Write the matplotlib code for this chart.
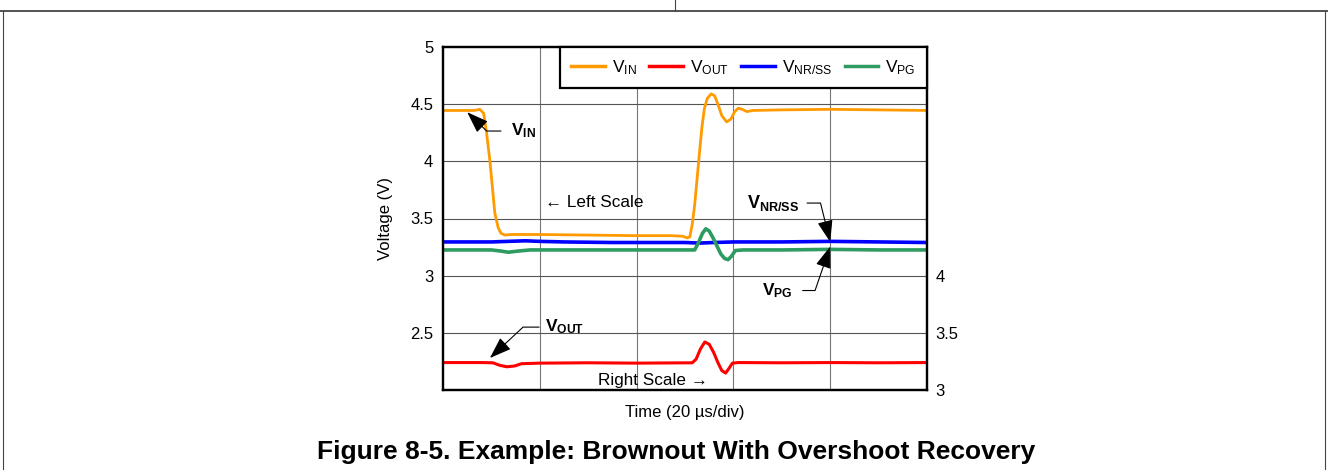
import matplotlib.pyplot as plt
from matplotlib.lines import Line2D

plt.rcParams['font.family'] = ['Liberation Sans', 'DejaVu Sans']
plt.rcParams['mathtext.default'] = 'regular'

# time in us, 20 us/div
t_vin = [0, 6.5, 7.6, 8.4, 9.0, 9.7, 10.7, 11.4, 12.0, 12.8, 14, 20, 30, 40, 47,
         49.5, 50.5, 51.0, 51.5, 52.0, 52.5, 53.0, 53.5, 54.0, 54.6, 55.4, 56.1,
         56.8, 57.6, 58.6, 59.5, 60.2, 61.0, 61.8, 62.8, 64, 70, 80, 90, 100]
v_vin = [4.445, 4.445, 4.455, 4.42, 4.25, 4.0, 3.55, 3.42, 3.37, 3.355, 3.36, 3.36, 3.355, 3.35, 3.35,
         3.345, 3.33, 3.34, 3.45, 3.62, 3.85, 4.08, 4.30, 4.46, 4.55, 4.59, 4.575,
         4.50, 4.40, 4.345, 4.37, 4.43, 4.465, 4.455, 4.435, 4.445, 4.45, 4.455, 4.45, 4.445]

t_nr = [0, 10, 17, 20, 25, 35, 50, 53, 56, 60, 70, 80, 90, 100]
v_nr = [3.295, 3.295, 3.305, 3.30, 3.295, 3.29, 3.29, 3.285, 3.29, 3.295, 3.295, 3.30, 3.295, 3.29]

t_pg = [0, 10, 12, 13.5, 15.5, 18, 30, 45, 52.0, 52.8, 53.6, 54.3, 55.0, 55.8, 56.6,
        57.4, 58.2, 58.9, 59.6, 60.4, 62, 70, 80, 90, 100]
v_pg = [3.225, 3.225, 3.215, 3.205, 3.215, 3.225, 3.225, 3.225, 3.225, 3.29, 3.37, 3.41, 3.39, 3.33, 3.26,
        3.19, 3.15, 3.14, 3.17, 3.22, 3.225, 3.225, 3.23, 3.225, 3.225]

# VOUT is read on the right scale
t_out = [0, 8, 10.3, 11.8, 13.2, 14.8, 16.2, 20, 30, 40, 51.5, 52.3, 53.2, 54.1, 55.0,
         55.9, 56.8, 57.6, 58.4, 59.1, 59.8, 61, 70, 80, 90, 100]
v_out = [3.24, 3.24, 3.238, 3.215, 3.203, 3.21, 3.23, 3.235, 3.238, 3.235, 3.238, 3.27, 3.36, 3.42, 3.40,
         3.33, 3.24, 3.17, 3.148, 3.19, 3.235, 3.24, 3.238, 3.24, 3.238, 3.24]

left_ticks = [2.5, 3, 3.5, 4, 4.5, 5]
left_labels = ['2.5', '3', '3.5', '4', '4.5', '5']
right_ticks = [3, 3.5, 4]
right_labels = ['3', '3.5', '4']
x_grid = [20, 40, 60, 80]

c_in, c_out, c_nr, c_pg = '#FF9A00', '#FF0000', '#0000FF', '#2E9B60'

fig = plt.figure(figsize=(13.28, 4.70), dpi=100)
ax = fig.add_axes([443/1328, 1-390/470, 484/1328, 343/470])
ax2 = ax.twinx()

ax.set_xlim(0, 100)
ax.set_ylim(2, 5)
ax2.set_ylim(3, 6)

for x in x_grid:
    ax.axvline(x, color='#777777', lw=0.8, zorder=0)
for y in left_ticks[:-1]:
    ax.axhline(y, color='#555555', lw=0.8, zorder=0)

l1, = ax.plot(t_vin, v_vin, color=c_in, lw=2.0, label='V$_{IN}$')
l3, = ax.plot(t_nr, v_nr, color=c_nr, lw=2.6, label='V$_{NR/SS}$')
l4, = ax.plot(t_pg, v_pg, color=c_pg, lw=2.6, label='V$_{PG}$')
l2, = ax2.plot(t_out, v_out, color=c_out, lw=2.2, label='V$_{OUT}$')

ax.set_xticks([])
ax.set_yticks(left_ticks, left_labels)
ax2.set_yticks(right_ticks, right_labels)
ax.tick_params(length=0, labelsize=12, pad=7)
ax2.tick_params(length=0, labelsize=12, pad=6)
for a in (ax, ax2):
    for s in a.spines.values():
        s.set_linewidth(1.6)

ax.set_xlabel('Time (20 µs/div)', fontsize=12, labelpad=11)
ax.set_ylabel('Voltage (V)', fontsize=12, labelpad=12)

leg = ax2.legend(handles=[l1, l2, l3, l4], loc='upper right', bbox_to_anchor=(1, 1),
                 borderaxespad=0, ncol=4, fontsize=12.5, fancybox=False, framealpha=1,
                 edgecolor='black', handlelength=1.95, handletextpad=0.4, columnspacing=0.7,
                 borderpad=0.65)
leg.get_frame().set_linewidth(1.6)
for h in leg.get_lines():
    h.set_linewidth(2.5)

arrow = dict(arrowstyle='-|>,head_length=0.9,head_width=0.32', color='black', lw=0.8,
             mutation_scale=15, shrinkB=0)

ax.annotate('V$_{IN}$', xy=(5.0, 4.43), xytext=(14.0, 4.265), fontsize=12.5, fontweight='bold',
            ha='left', va='center',
            arrowprops=dict(arrow, relpos=(0, 0.5), shrinkA=5,
                            connectionstyle='angle,angleA=0,angleB=136,rad=0'))
ax.annotate('V$_{NR/SS}$', xy=(80, 3.295), xytext=(73.5, 3.635), fontsize=13, fontweight='bold',
            ha='right', va='center',
            arrowprops=dict(arrow, relpos=(1, 0.5), shrinkA=4,
                            connectionstyle='angle,angleA=0,angleB=-76,rad=0'))
ax.annotate('V$_{PG}$', xy=(80, 3.255), xytext=(72.3, 2.87), fontsize=12.5, fontweight='bold',
            ha='right', va='center',
            arrowprops=dict(arrow, relpos=(1, 0.5), shrinkA=5,
                            connectionstyle='angle,angleA=0,angleB=71,rad=0'))
ax.annotate('V$_{OUT}$', xy=(9.7, 2.28), xytext=(21.0, 2.55), fontsize=12.5, fontweight='bold',
            ha='left', va='center',
            arrowprops=dict(arrow, relpos=(0, 0.5), shrinkA=2,
                            connectionstyle='angle,angleA=0,angleB=43,rad=0'))

ax.text(21.1, 3.64, '\u2190 Left Scale', fontsize=12.3, ha='left', va='center')
ax.text(32.0, 2.08, 'Right Scale \u2192', fontsize=12.3, ha='left', va='center')

fig.text(676/1328, 1-452/470, 'Figure 8-5. Example: Brownout With Overshoot Recovery',
         fontsize=19, fontweight='bold', ha='center', va='center')

# page frame
fig.add_artist(Line2D([0, 1], [1-10.5/470]*2, color='#444444', lw=1.3))
fig.add_artist(Line2D([675/1328]*2, [1, 1-10.5/470], color='#444444', lw=0.8))
fig.add_artist(Line2D([3/1328]*2, [0, 1-10.5/470], color='#444444', lw=0.8))
fig.add_artist(Line2D([1325/1328]*2, [0, 1-10.5/470], color='#444444', lw=0.8))

fig.savefig('out.png', dpi=100)
